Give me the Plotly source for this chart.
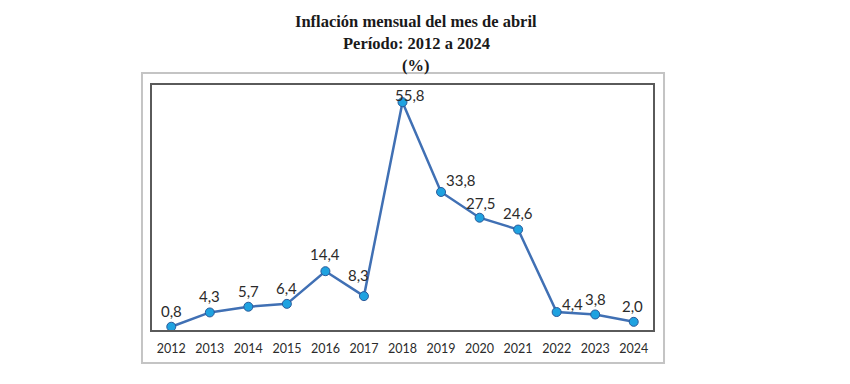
import plotly.graph_objects as go

years = ["2012", "2013", "2014", "2015", "2016", "2017", "2018",
         "2019", "2020", "2021", "2022", "2023", "2024"]
values = [0.8, 4.3, 5.7, 6.4, 14.4, 8.3, 55.8, 33.8, 27.5, 24.6, 4.4, 3.8, 2.0]
labels = ["0,8", "4,3", "5,7", "6,4", "14,4", "8,3", "55,8",
          "33,8", "27,5", "24,6", "4,4", "3,8", "2,0"]
title_lines = ["Inflación mensual del mes de abril", "Período: 2012 a 2024", "(%)"]

# label offsets (pixels) relative to each point
label_dx = [0, 0, 0, 0, 0, -5, 7, 20, 1, 0, 16, 0, -1]
label_dy = [16, 16, 16, 16, 17, 21, 7, 12, 15, 17, 8, 15, 16]
# title line vertical offsets (pixels above plot top)
title_dy = [64, 42, 20]

fig = go.Figure()
fig.add_trace(go.Scatter(
    x=years, y=values, mode="lines+markers",
    line=dict(color="#4070b4", width=2.5),
    marker=dict(size=9, color="#1fa2e0", line=dict(color="#2a5a9a", width=1)),
    hoverinfo="skip", showlegend=False,
))

for i, (v, lab, dx, dy) in enumerate(zip(values, labels, label_dx, label_dy)):
    fig.add_annotation(x=i, y=v, text=lab, showarrow=False,
                       xshift=dx, yshift=dy,
                       font=dict(family="Lato", size=15, color="#2b2b2b"))

for line, dy in zip(title_lines, title_dy):
    fig.add_annotation(xref="paper", yref="paper", x=0.527, y=1.0, yanchor="middle",
                       yshift=dy, showarrow=False, align="center", borderpad=0,
                       text="<b>" + line + "</b>",
                       font=dict(family="Liberation Serif", size=16.5, color="#1a1a1a"))

# outer frame
fig.add_shape(type="rect", xref="paper", yref="paper",
              x0=-0.02, x1=1.022, y0=-0.135, y1=1.049,
              line=dict(color="#c4c4c4", width=2), layer="below")

fig.update_xaxes(type="category", range=[-0.5, 12.5], showgrid=False,
                 showline=True, mirror=True, linecolor="#5a5a5a", linewidth=1.5,
                 ticks="", ticklabelstandoff=6,
                 tickfont=dict(family="Lato", size=12.5, color="#2b2b2b"))
fig.update_yaxes(range=[0, 60], showgrid=False, showticklabels=False,
                 showline=True, mirror=True, linecolor="#5a5a5a", linewidth=1.5,
                 zeroline=False, ticks="")

fig.update_layout(width=850, height=384,
                  margin=dict(l=144, r=205, t=77, b=62),
                  paper_bgcolor="white", plot_bgcolor="white")

fig.write_html("out.html")
